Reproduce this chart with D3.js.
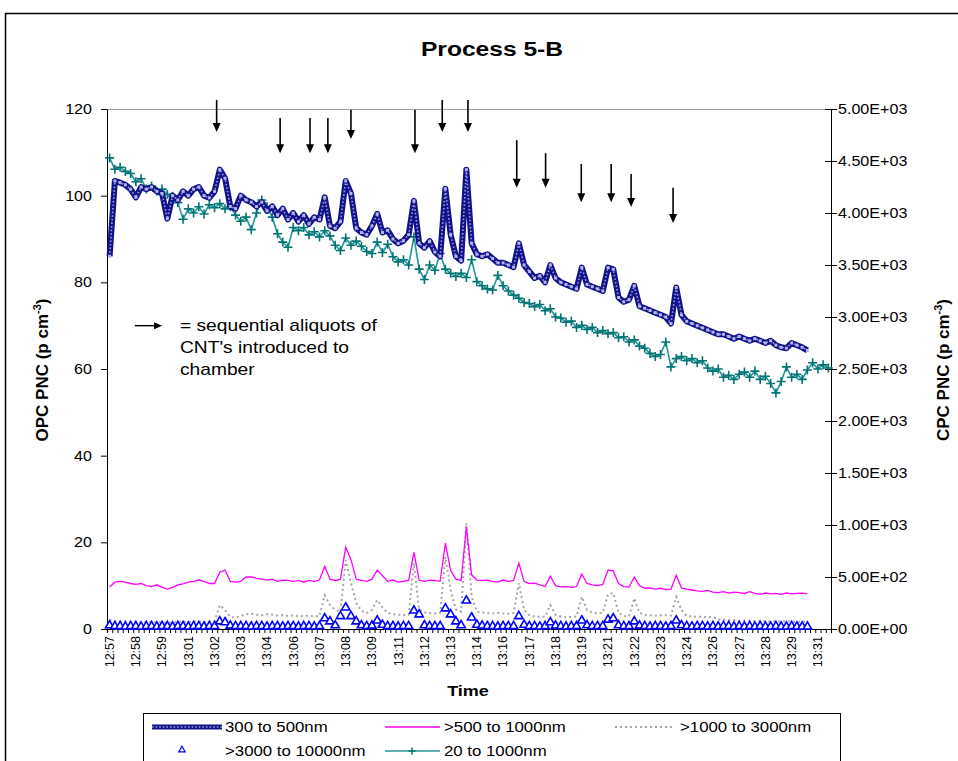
<!DOCTYPE html>
<html lang="en">
<head>
  <meta charset="utf-8">
  <title>Process 5-B</title>
  <style>
    body { margin: 0; background: #fff; }
    svg { display: block; }
    text { font-family: "Liberation Sans", Arial, sans-serif; fill: #000; }
  </style>
</head>
<body>
<div id="chart"></div>
<script src="https://d3js.org/d3.v7.min.js"></script>
<script>
// categories: one every 15 s, a label every 5th category
var nCat = 138;
var labelStep = 5;
var timeLabels = ["12:57", "12:58", "12:59", "13:01", "13:02", "13:03", "13:04", "13:06", "13:07",
  "13:08", "13:09", "13:11", "13:12", "13:13", "13:14", "13:16", "13:17", "13:18", "13:19",
  "13:21", "13:22", "13:23", "13:24", "13:26", "13:27", "13:28", "13:29", "13:31"];

// OPC series (left axis)
var opc300 = [86, 103.4, 103, 102.5, 101.5, 99.6, 102, 101.5, 102, 101,
  100.5, 94.7, 100, 99, 101, 100, 101.5, 102, 100, 99.5,
  101, 106, 104, 97.5, 97, 100, 99, 98.5, 97.5, 98.5,
  96.5, 97.5, 95.5, 97, 94.5, 96, 94, 95.5, 93.5, 95,
  94.5, 99.6, 93, 92.5, 94, 103.4, 100.5, 92.5, 91.5, 91,
  93, 95.8, 91.5, 92, 90, 89, 89.6, 91, 98.8, 89,
  88, 89.5, 87, 86, 101.6, 91, 86, 85, 106, 89,
  86.5, 86, 86.5, 85.5, 84.5, 84.5, 84, 83.5, 89, 84,
  82.5, 81, 81.5, 80, 84, 81, 80, 79.5, 79, 78.5,
  83.4, 79.5, 79, 78.5, 78, 83.4, 83, 76.5, 75.5, 76,
  79.2, 74.5, 74, 73.5, 73, 72.5, 72, 70.5, 78.8, 72.5,
  71, 70.5, 70, 69.5, 69, 68.5, 68, 68, 67.5, 67,
  67.5, 67, 66.5, 67, 66.5, 66, 66.5, 65.5, 65, 64.8,
  66, 65.5, 65, 64.3];

var opc500 = [9.7, 10.8, 11, 10.8, 10.5, 10.3, 10.5, 10, 9.8, 10.2,
  9.6, 9.2, 9.6, 10.2, 10.4, 10.8, 11, 11.3, 11, 10.5,
  10.5, 13.1, 13.6, 11, 10.8, 11, 12, 12, 11.7, 11.5,
  11.3, 11.5, 11, 11.3, 11.2, 11, 11.2, 10.8, 11.2, 11,
  11.3, 14.5, 11.5, 11.2, 11.5, 18.9, 16, 11.5, 11.2, 11,
  11.5, 13.6, 12.3, 11, 11.3, 10.8, 11, 11.2, 17.7, 11.3,
  11, 11.3, 11.2, 11, 19.8, 13.5, 11.5, 11.2, 23.5, 12.5,
  11.3, 11.2, 11.3, 11, 10.8, 11.3, 11, 11.2, 15.2, 11,
  10.5, 10.6, 10.2, 9.8, 12.2, 10, 9.7, 9.8, 9.6, 9.8,
  12.7, 10.5, 10.2, 10, 10.3, 13.6, 13.4, 10.5, 9.8, 9.7,
  12, 10, 9.4, 9.5, 9.2, 9.4, 9.1, 9.2, 12.4, 9.5,
  9.2, 9, 8.8, 8.7, 8.9, 8.5, 8.4, 8.6, 8.3, 8.5,
  8.4, 8.2, 8.6, 8.2, 8, 8.3, 8.1, 8.2, 8, 8.3,
  8.1, 8.2, 8.3, 8.1];

var opc1000 = [2.1, 1.8, 1.7, 1.8, 1.6, 1.7, 1.5, 1.6, 1.7, 1.5,
  1.6, 1.4, 1.5, 1.6, 1.7, 1.6, 1.8, 1.7, 1.6, 1.7,
  1.8, 5.5, 4.4, 2.8, 2.6, 3.0, 3.4, 3.5, 3.3, 3.2,
  3.4, 3.3, 3.1, 3.2, 3.0, 3.1, 2.9, 3.0, 3.1, 2.9,
  3.0, 7.8, 5.5, 4.4, 4.0, 15.9, 10.6, 6.0, 4.2, 3.7,
  4.4, 6.7, 5.0, 3.7, 3.4, 3.3, 3.2, 3.3, 15.2, 4.4,
  3.8, 3.7, 3.6, 3.7, 16.6, 9.0, 4.5, 4.0, 24.4, 7.4,
  4.0, 3.8, 3.7, 3.6, 3.7, 3.6, 3.5, 3.7, 10.6, 4.4,
  3.2, 2.9, 2.8, 2.8, 5.5, 3.3, 2.9, 2.7, 2.8, 2.9,
  7.4, 4.4, 3.8, 3.6, 3.7, 8.0, 8.3, 3.7, 3.0, 2.9,
  7.1, 3.7, 3.3, 3.2, 3.1, 3.2, 3.2, 3.1, 7.4, 4.4,
  3.0, 2.9, 2.8, 2.8, 2.7, 2.8, 2.2, 2.1, 2.0, 2.1,
  1.9, 2.0, 1.9, 1.8, 1.9, 1.8, 1.7, 1.8, 1.7, 1.8,
  1.7, 1.6, 1.7, 1.6];

var opc3000 = [0.5, 0.3, 0.3, 0.2, 0.3, 0.3, 0.2, 0.3, 0.3, 0.2,
  0.3, 0.3, 0.2, 0.3, 0.3, 0.2, 0.3, 0.3, 0.2, 0.3,
  0.3, 1.4, 1.2, 0.4, 0.3, 0.3, 0.3, 0.2, 0.3, 0.3,
  0.2, 0.3, 0.3, 0.2, 0.3, 0.3, 0.2, 0.3, 0.3, 0.2,
  0.3, 2.1, 1.4, 0.5, 2.6, 4.6, 2.6, 1.4, 0.5, 0.3,
  0.4, 1.6, 0.6, 0.3, 0.3, 0.2, 0.3, 0.3, 3.9, 3.0,
  0.5, 0.3, 0.3, 0.3, 4.4, 3.0, 1.4, 0.5, 6.2, 2.3,
  0.6, 0.4, 0.3, 0.3, 0.2, 0.3, 0.3, 0.3, 2.6, 0.6,
  0.3, 0.3, 0.2, 0.3, 1.2, 0.4, 0.3, 0.2, 0.3, 0.3,
  1.6, 0.5, 0.3, 0.3, 0.3, 1.8, 2.1, 0.5, 0.3, 0.3,
  1.4, 0.4, 0.3, 0.2, 0.3, 0.3, 0.2, 0.3, 1.6, 0.5,
  0.3, 0.2, 0.3, 0.3, 0.2, 0.3, 0.2, 0.3, 0.3, 0.2,
  0.3, 0.2, 0.3, 0.2, 0.3, 0.2, 0.2, 0.3, 0.2, 0.2,
  0.3, 0.2, 0.2, 0.2];

// CPC series (right axis)
var cpc = [4530, 4420, 4440, 4400, 4380, 4300, 4330, 4230, 4260, 4210,
  4230, 4180, 4160, 4100, 3940, 4040, 4000, 4060, 3990, 4080,
  4050, 4090, 4040, 4060, 3980, 3920, 3960, 3840, 4000, 4125,
  4060, 3960, 3800, 3720, 3670, 3860, 3830, 3860, 3790, 3820,
  3770, 3830, 3780, 3690, 3640, 3760, 3690, 3730, 3680, 3630,
  3610, 3720, 3620, 3700, 3580, 3530, 3550, 3500, 3770, 3460,
  3360, 3500, 3450, 3610, 3460, 3420, 3390, 3420, 3380, 3550,
  3340, 3300, 3270, 3260, 3400, 3300, 3250, 3210, 3180, 3140,
  3130, 3100, 3120, 3060, 3080, 3000, 2990, 2950, 2960, 2900,
  2920, 2880, 2900, 2850, 2870, 2840, 2850, 2800, 2810, 2760,
  2780, 2720, 2700, 2650, 2620, 2640, 2760, 2520, 2600, 2620,
  2580, 2600, 2560, 2580, 2510, 2480, 2500, 2420, 2440, 2400,
  2450, 2470, 2420, 2480, 2400, 2430, 2360, 2270, 2380, 2520,
  2420, 2450, 2400, 2490, 2560, 2500, 2540, 2510];

var leftTicks = [0, 20, 40, 60, 80, 100, 120];
var rightTicks = [0, 500, 1000, 1500, 2000, 2500, 3000, 3500, 4000, 4500, 5000];
var rightTickLabels = ["0.00E+00", "5.00E+02", "1.00E+03", "1.50E+03", "2.00E+03", "2.50E+03",
  "3.00E+03", "3.50E+03", "4.00E+03", "4.50E+03", "5.00E+03"];

// aliquot arrows: [category position, top value, tip value] on the left axis
var arrows = [[20.9, 122.1, 114.7], [33.0, 117.9, 109.8], [38.7, 117.9, 109.8], [42.1, 117.9, 109.8],
  [46.5, 119.8, 113.1], [58.7, 119.8, 109.8], [63.9, 122.1, 114.7], [68.8, 122.1, 114.7],
  [78.1, 112.8, 101.8], [83.6, 109.8, 101.8], [90.4, 107.3, 98.5], [96.1, 107.3, 98.5],
  [99.9, 105, 97.4], [107.9, 101.8, 93.7]];
var noteArrow = [5.3, 10.5, 70];
var noteLines = ["= sequential aliquots of", "CNT's introduced to", "chamber"];

var seriesNames = ["300 to 500nm", ">500 to 1000nm", ">1000 to 3000nm", ">3000 to 10000nm", "20 to 1000nm"];

var svg = d3.select("#chart").append("svg")
  .attr("width", 958)
  .attr("height", 761);

// stretch text horizontally (the original picture is wider than tall)
function stretch(sel, k) {
  sel.each(function () {
    var t = d3.select(this);
    var tx = +t.attr("x") || 0, ty = +t.attr("y") || 0;
    t.attr("x", null).attr("y", null)
      .attr("transform", "translate(" + tx + "," + ty + ") scale(" + k + ",1)");
  });
}

// outer chart frame
svg.append("rect")
  .attr("x", 5.5).attr("y", 13.5)
  .attr("width", 1000).attr("height", 800)
  .attr("fill", "none").attr("stroke", "#000").attr("stroke-width", 1.5);

var plot = { left: 107, right: 831, top: 109, bottom: 629 };

var x = d3.scaleLinear().domain([0, nCat]).range([plot.left, plot.right]);
var yL = d3.scaleLinear().domain([0, 120]).range([plot.bottom, plot.top]);
var yR = d3.scaleLinear().domain([0, 5000]).range([plot.bottom, plot.top]);

// title
svg.append("text")
  .attr("x", 492).attr("y", 56)
  .attr("text-anchor", "middle")
  .style("font-size", "20.5px").style("font-weight", "bold")
  .text("Process 5-B")
  .call(stretch, 1.2);

// plot area top border
svg.append("line")
  .attr("x1", plot.left).attr("x2", plot.right)
  .attr("y1", plot.top + 0.5).attr("y2", plot.top + 0.5)
  .attr("stroke", "#a0a0a0");

// left axis
var gL = svg.append("g")
  .attr("transform", "translate(" + plot.left + ",0)")
  .call(d3.axisLeft(yL).tickValues(leftTicks).tickSize(6).tickSizeOuter(0).tickPadding(9));
gL.selectAll("text").style("font-size", "14px").call(stretch, 1.15);

// right axis, ticks crossing the line
var gR = svg.append("g")
  .attr("transform", "translate(" + plot.right + ",0)")
  .call(d3.axisRight(yR).tickValues(rightTicks)
    .tickFormat(function (d, i) { return rightTickLabels[i]; })
    .tickSize(6).tickSizeOuter(0).tickPadding(1));
gR.selectAll(".tick line").attr("x1", -6);
gR.selectAll("text").style("font-size", "14px").call(stretch, 1.15);

// bottom axis: a small tick at every category boundary
svg.append("g")
  .attr("transform", "translate(0," + plot.bottom + ")")
  .call(d3.axisBottom(x).tickValues(d3.range(0, nCat + 1)).tickFormat("").tickSize(4).tickSizeOuter(0));

svg.append("g").selectAll("text")
  .data(timeLabels)
  .enter().append("text")
  .attr("text-anchor", "end")
  .attr("dy", "0.35em")
  .attr("transform", function (d, i) {
    return "translate(" + x(i * labelStep + 0.5) + "," + (plot.bottom + 7) + ") rotate(-90)";
  })
  .style("font-size", "12.5px")
  .text(function (d) { return d; });

// axis titles
svg.append("text")
  .attr("transform", "translate(48,370) rotate(-90)")
  .attr("text-anchor", "middle")
  .style("font-size", "17px").style("font-weight", "bold")
  .html('OPC PNC (p cm<tspan dy="-7" style="font-size:11px">-3</tspan><tspan dy="7">)</tspan>');

svg.append("text")
  .attr("transform", "translate(949,370) rotate(-90)")
  .attr("text-anchor", "middle")
  .style("font-size", "17px").style("font-weight", "bold")
  .html('CPC PNC (p cm<tspan dy="-7" style="font-size:11px">-3</tspan><tspan dy="7">)</tspan>');

svg.append("text")
  .attr("x", 468).attr("y", 696)
  .attr("text-anchor", "middle")
  .style("font-size", "15px").style("font-weight", "bold")
  .text("Time")
  .call(stretch, 1.2);

// series
var xi = function (d, i) { return x(i + 0.5); };

// >1000 to 3000nm dotted grey
svg.append("path")
  .datum(opc1000)
  .attr("fill", "none").attr("stroke", "#a6a6a6").attr("stroke-width", 2)
  .attr("stroke-dasharray", "2,3")
  .attr("d", d3.line().x(xi).y(function (d) { return yL(d); }));

// >500 to 1000nm magenta
svg.append("path")
  .datum(opc500)
  .attr("fill", "none").attr("stroke", "#ff00ff").attr("stroke-width", 1.3)
  .attr("d", d3.line().x(xi).y(function (d) { return yL(d); }));

// >3000 to 10000nm triangles
var tri = d3.symbol().type(d3.symbolTriangle).size(30);
svg.append("g").selectAll("path")
  .data(opc3000)
  .enter().append("path")
  .attr("d", tri)
  .attr("transform", function (d, i) { return "translate(" + xi(d, i) + "," + (yL(d) - 1.5) + ")"; })
  .attr("fill", "#fff").attr("stroke", "#0000ff").attr("stroke-width", 1.6);

// 20 to 1000nm CPC teal with + markers
svg.append("path")
  .datum(cpc)
  .attr("fill", "none").attr("stroke", "#229696").attr("stroke-width", 1.6)
  .attr("d", d3.line().x(xi).y(function (d) { return yR(d); }));
svg.append("g").selectAll("path")
  .data(cpc)
  .enter().append("path")
  .attr("d", "M-4.5,0H4.5M0,-4.5V4.5")
  .attr("transform", function (d, i) { return "translate(" + xi(d, i) + "," + yR(d) + ")"; })
  .attr("stroke", "#007373").attr("stroke-width", 1.6);

// 300 to 500nm: thick navy band with light square markers
var line300 = d3.line().x(xi).y(function (d) { return yL(d); });
svg.append("path")
  .datum(opc300)
  .attr("fill", "none").attr("stroke", "#12128a").attr("stroke-width", 6)
  .attr("stroke-linejoin", "round")
  .attr("d", line300);
svg.append("path")
  .datum(opc300)
  .attr("fill", "none").attr("stroke", "#9c9ce2").attr("stroke-width", 1.6)
  .attr("stroke-dasharray", "1.6,2")
  .attr("d", line300);
svg.append("g").selectAll("rect")
  .data(opc300)
  .enter().append("rect")
  .attr("x", function (d, i) { return xi(d, i) - 1.5; })
  .attr("y", function (d) { return yL(d) - 1.5; })
  .attr("width", 3).attr("height", 3)
  .attr("fill", "#b4b4ee");

// aliquot arrows
arrows.forEach(function (a) {
  var ax = x(a[0]), y0 = yL(a[1]), y1 = yL(a[2]);
  svg.append("line")
    .attr("x1", ax).attr("x2", ax).attr("y1", y0).attr("y2", y1 - 6)
    .attr("stroke", "#000").attr("stroke-width", 1.6);
  svg.append("path")
    .attr("d", "M" + (ax - 4) + "," + (y1 - 9) + "L" + (ax + 4) + "," + (y1 - 9) + "L" + ax + "," + y1 + "Z")
    .attr("fill", "#000");
});

// note
var nx0 = x(noteArrow[0]), nx1 = x(noteArrow[1]), ny = yL(noteArrow[2]);
svg.append("line")
  .attr("x1", nx0).attr("x2", nx1 - 6).attr("y1", ny).attr("y2", ny)
  .attr("stroke", "#000").attr("stroke-width", 1.4);
svg.append("path")
  .attr("d", "M" + (nx1 - 8) + "," + (ny - 3.5) + "L" + nx1 + "," + ny + "L" + (nx1 - 8) + "," + (ny + 3.5) + "Z")
  .attr("fill", "#000");
svg.append("g").selectAll("text")
  .data(noteLines)
  .enter().append("text")
  .attr("x", 180)
  .attr("y", function (d, i) { return 331 + i * 22; })
  .style("font-size", "16px")
  .text(function (d) { return d; })
  .call(stretch, 1.2);

// legend
var lg = svg.append("g");
lg.append("rect")
  .attr("x", 143.5).attr("y", 713.5).attr("width", 697).attr("height", 80)
  .attr("fill", "#fff").attr("stroke", "#000").attr("stroke-width", 1);

var row1 = 727, row2 = 751;
// 300 to 500nm
lg.append("line").attr("x1", 152).attr("x2", 222).attr("y1", row1).attr("y2", row1)
  .attr("stroke", "#12128a").attr("stroke-width", 5);
lg.append("line").attr("x1", 152).attr("x2", 222).attr("y1", row1).attr("y2", row1)
  .attr("stroke", "#9c9ce2").attr("stroke-width", 1.6).attr("stroke-dasharray", "1.6,2");
// >500 to 1000nm
lg.append("line").attr("x1", 385).attr("x2", 440).attr("y1", row1).attr("y2", row1)
  .attr("stroke", "#ff00ff").attr("stroke-width", 1.3);
// >1000 to 3000nm
lg.append("line").attr("x1", 615).attr("x2", 675).attr("y1", row1).attr("y2", row1)
  .attr("stroke", "#a6a6a6").attr("stroke-width", 2).attr("stroke-dasharray", "2,3");
// >3000 to 10000nm
lg.append("path").attr("d", d3.symbol().type(d3.symbolTriangle).size(18)).attr("transform", "translate(182," + (row2 - 1) + ")")
  .attr("fill", "#fff").attr("stroke", "#0000ff").attr("stroke-width", 1.2);
// 20 to 1000nm
lg.append("line").attr("x1", 385).attr("x2", 440).attr("y1", row2).attr("y2", row2)
  .attr("stroke", "#5fb0b0").attr("stroke-width", 2);
lg.append("path").attr("d", "M-3.5,0H3.5M0,-3.5V3.5").attr("transform", "translate(412," + row2 + ")")
  .attr("stroke", "#007373").attr("stroke-width", 1.5);

var legendText = [[225, row1, seriesNames[0]], [444, row1, seriesNames[1]], [680, row1, seriesNames[2]],
  [225, row2, seriesNames[3]], [444, row2, seriesNames[4]]];
lg.selectAll(".lt").data(legendText).enter().append("text")
  .attr("x", function (d) { return d[0]; })
  .attr("y", function (d) { return d[1] + 5; })
  .style("font-size", "14px")
  .text(function (d) { return d[2]; })
  .call(stretch, 1.2);
</script>
</body>
</html>
